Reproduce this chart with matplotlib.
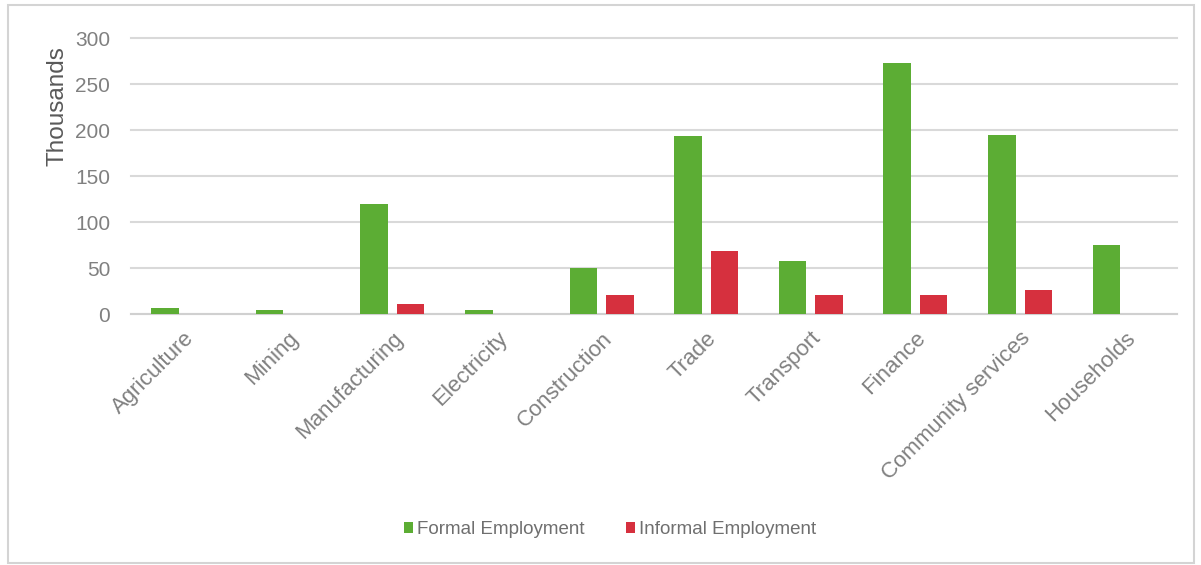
import numpy as np
import matplotlib.pyplot as plt
from matplotlib.patches import Rectangle

# Employment by sector, thousands
sectors = ['Agriculture', 'Mining', 'Manufacturing', 'Electricity', 'Construction',
           'Trade', 'Transport', 'Finance', 'Community services', 'Households']
formal = [7, 4, 120, 4, 50, 193, 58, 273, 195, 75]
informal = [0.5, 0.3, 11, 0.5, 21, 68, 21, 21, 26, 0]
yticks = [0, 50, 100, 150, 200, 250, 300]

green = '#5cad34'
red = '#d6303e'
font = ['Liberation Sans', 'DejaVu Sans']

fig = plt.figure(figsize=(12.01, 5.65), dpi=100)
ax = fig.add_axes([0.109, 0.4442, 0.871, 0.4885])

x = np.arange(len(sectors))
w = 0.263
off = 0.1745
ax.bar(x - off, formal, w, color=green, label='Formal Employment', zorder=3)
ax.bar(x + off, informal, w, color=red, label='Informal Employment', zorder=3)

ax.set_xlim(-0.5, len(sectors) - 0.5)
ax.set_ylim(0, 300)
ax.set_yticks(yticks)
ax.yaxis.grid(True, color='#d9d9d9', linewidth=1.5, zorder=0)
for gl in ax.get_ygridlines():
    gl.set_clip_on(False)
ax.set_axisbelow(True)
for s in ['top', 'right', 'left']:
    ax.spines[s].set_visible(False)
ax.spines['bottom'].set_color('#d0d0d0')
ax.spines['bottom'].set_linewidth(1.5)
ax.tick_params(axis='both', length=0)
ax.tick_params(axis='y', pad=15)

for lab in ax.get_yticklabels():
    lab.set_family(font)
    lab.set_fontsize(15)
    lab.set_color('#808080')

ax.set_xticks(x)
ax.set_xticklabels(sectors, rotation=45, ha='right', rotation_mode='anchor',
                   family=font, fontsize=16, color='#808080')
ax.tick_params(axis='x', pad=10)

ax.set_ylabel('Thousands', family=font, fontsize=17.5, color='#595959')
ax.yaxis.set_label_coords(-0.060, 0.754)

fig.legend(loc='center', bbox_to_anchor=(0.508, 0.062), ncol=2, frameon=False,
           prop={'family': font, 'size': 13.5}, labelcolor='#6f6f6f',
           handlelength=0.5, handleheight=0.5, handletextpad=0.2, columnspacing=2.2)

# light frame around the whole chart
fig.patches.append(Rectangle((0.007, 0.004), 0.987, 0.987, transform=fig.transFigure,
                             fill=False, edgecolor='#d4d4d4', linewidth=1.5))

fig.savefig('out.png', dpi=100)
